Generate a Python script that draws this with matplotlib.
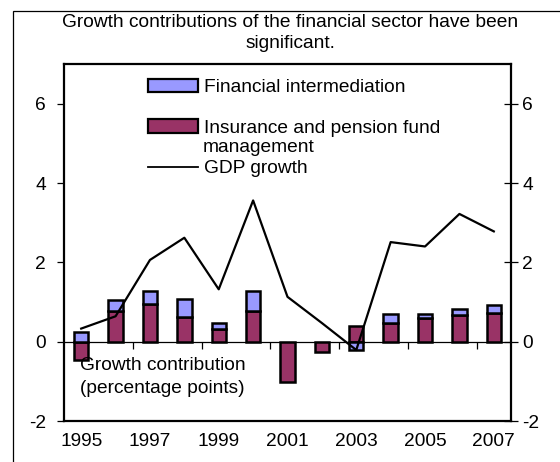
import matplotlib
matplotlib.use("Agg")
import matplotlib.pyplot as plt
from matplotlib.patches import Rectangle
from matplotlib.lines import Line2D
import numpy as np

plt.rcParams['font.family'] = ['Liberation Sans', 'DejaVu Sans']
plt.rcParams['axes.unicode_minus'] = False

years = [1995, 1996, 1997, 1998, 1999, 2000, 2001, 2002, 2003, 2004, 2005, 2006, 2007]
fin_intermediation = [0.25, 0.29, 0.34, 0.46, 0.15, 0.51, 0.0, 0.0, -0.20, 0.22, 0.09, 0.14, 0.20]
insurance_pension = [-0.45, 0.77, 0.94, 0.62, 0.33, 0.77, -1.01, -0.26, 0.39, 0.47, 0.60, 0.68, 0.73]
gdp_growth = [0.33, 0.64, 2.06, 2.62, 1.32, 3.56, 1.13, 0.47, -0.21, 2.51, 2.40, 3.22, 2.78]
y_ticks = [-2, 0, 2, 4, 6]
year_labels = ['1995', '1997', '1999', '2001', '2003', '2005', '2007']

title = "Growth contributions of the financial sector have been\nsignificant."
note = "Growth contribution\n(percentage points)"

BLUE = '#9999FF'
RED = '#993366'
FS = 13.8

W, H = 560, 462
fig = plt.figure(figsize=(W / 100, H / 100), dpi=100)
ax = fig.add_axes([64 / W, 1 - 421 / H, (511 - 64) / W, (421 - 64) / H])

x = np.arange(len(years))
fin = np.array(fin_intermediation)
ins = np.array(insurance_pension)
# Excel-style stacking: positives stack on positives, negatives on negatives
ins_base = np.zeros_like(ins)
fin_base = np.where((fin >= 0) & (ins >= 0), ins, np.where((fin < 0) & (ins < 0), ins, 0.0))

bw = 0.42
ax.bar(x, ins, bw, bottom=ins_base, color=RED, edgecolor='black', linewidth=1.8, zorder=3)
mask = fin != 0
ax.bar(x[mask], fin[mask], bw, bottom=fin_base[mask], color=BLUE, edgecolor='black', linewidth=1.8, zorder=3)
ax.plot(x, gdp_growth, color='black', lw=1.6, zorder=4)

ax.set_xlim(-0.5, len(years) - 0.5)
ax.set_ylim(-2, 7)

# zero axis with boundary ticks
ax.spines['bottom'].set_position(('data', 0))
ax.spines['bottom'].set_linewidth(0.9)
ax.set_xticks(np.arange(1.5, len(years) - 1, 2))
ax.set_xticklabels([])
ax.tick_params(axis='x', direction='out', length=5, width=0.9, color='black')

sec = ax.secondary_xaxis(0.0)
sec.set_xticks(np.arange(0, len(years), 2))
sec.set_xticklabels(year_labels, fontsize=FS)
sec.tick_params(axis='x', length=0, pad=9)
sec.spines['bottom'].set_linewidth(1.6)

for s in ['left', 'top', 'right']:
    ax.spines[s].set_linewidth(1.6)

ax.set_yticks(y_ticks)
ax.set_yticklabels([str(t) for t in y_ticks], fontsize=FS)
ax.tick_params(axis='y', direction='out', length=5, width=0.9, pad=8)

ax2 = ax.twinx()
ax2.set_ylim(-2, 7)
ax2.set_yticks(y_ticks)
ax2.set_yticklabels([str(t) for t in y_ticks], fontsize=FS)
ax2.tick_params(axis='y', direction='inout', length=10, width=0.9, pad=3)
for s in ax2.spines.values():
    s.set_visible(False)

handles = [Rectangle((0, 0), 1, 1, facecolor=BLUE, edgecolor='black', linewidth=1.6),
           Rectangle((0, 0), 1, 1, facecolor=RED, edgecolor='black', linewidth=1.6),
           Line2D([], [], color='black', lw=1.3)]
labels = ['Financial intermediation', 'Insurance and pension fund', 'GDP growth']
leg = ax.legend(handles, labels, loc='upper left', bbox_to_anchor=((148 - 64) / 447, 1 - 15 / 357),
                frameon=False, fontsize=FS, handlelength=2.6, handleheight=0.7,
                handletextpad=0.3, labelspacing=1.2, borderpad=0, borderaxespad=0)
ax.text((203 - 64) / 447, 1 - (148 - 64) / 357, 'management', transform=ax.transAxes,
        fontsize=FS, va='center', ha='left')

ax.text((80 - 64) / 447, 1 - (357 - 64) / 357, note, transform=ax.transAxes,
        fontsize=FS, va='top', ha='left', linespacing=1.45, zorder=5)

fig.text(290 / W, 1 - 33 / H, title, ha='center', va='center', fontsize=FS, linespacing=1.3)

fig.patches.append(Rectangle((13 / W, -0.1), 1.2, 1 - 11 / H + 0.1, transform=fig.transFigure,
                             fill=False, edgecolor='black', linewidth=0.9, clip_on=False))

fig.savefig('out.png', dpi=100)
